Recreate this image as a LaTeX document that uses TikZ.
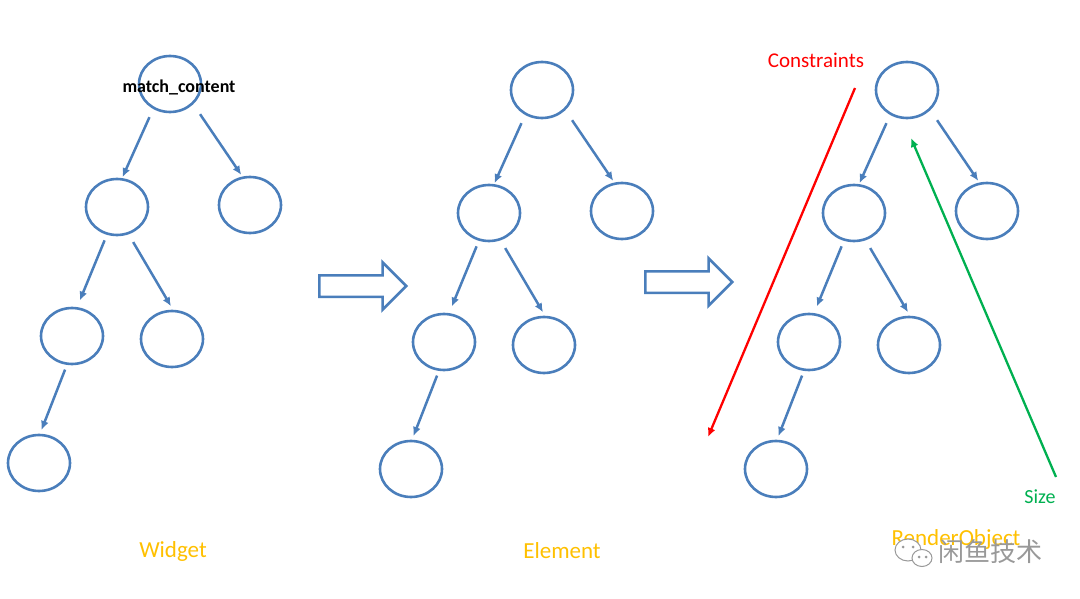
\documentclass[tikz,border=0pt]{standalone}
\usepackage{fontspec}
\setmainfont{Carlito}
\newfontfamily\cjk{Noto Sans CJK SC}
\usetikzlibrary{arrows.meta,shapes.geometric,shapes.arrows}

\definecolor{treeblue}{RGB}{74,126,187}
\definecolor{labelgold}{RGB}{255,192,0}
\definecolor{sizegreen}{RGB}{0,176,80}

\begin{document}
\begin{tikzpicture}[x=1pt,y=-1pt,>={Latex[length=9pt,width=8pt]},
						obj/.style={draw=treeblue,ellipse,line width=2.6pt,minimum width=62pt,minimum height=56pt,inner sep=0pt},
						link/.style={->,treeblue,line width=2.5pt},
						stage/.style={single arrow,draw=treeblue,line width=2.5pt,inner xsep=0pt,inner ysep=9.5pt,
							single arrow head extend=13pt,minimum height=87pt,anchor=tail},
						title/.style={labelgold,font=\fontsize{23}{27}\selectfont},
						flow/.style={->,line width=2.3pt}]

						\useasboundingbox (0,0) rectangle (1080,599);

						%%% Three trees: Widget, Element, RenderObject
						\foreach \t/\dx/\dy in {w/0/0,e/372/6,r/737/6}{
							\begin{scope}[shift={(\dx,\dy)}]
								\node[obj] (\t-root) at (170,84) {};
								\node[obj] (\t-a) at (117,207) {};
								\node[obj] (\t-b) at (250,205) {};
								\node[obj] (\t-c) at (72,336) {};
								\node[obj] (\t-d) at (172,339) {};
								\node[obj] (\t-e) at (39,463) {};
								\draw[link,shorten <=9pt,shorten >=1pt] (\t-root.236) -- (\t-a.80);
								\draw[link,shorten <=12pt,shorten >=2pt] (\t-root.319) -- (\t-b.105);
								\draw[link,shorten <=6pt,shorten >=7pt] (\t-a.250) -- (\t-c.80);
								\draw[link,shorten <=9pt,shorten >=4pt] (\t-a.293) -- (\t-d.88);
								\draw[link,shorten <=5pt,shorten >=4pt] (\t-c.260) -- (\t-e.88);
							\end{scope}
						}
						\node[font=\bfseries\fontsize{18}{22}\selectfont] (match) at (179,87) {match\_content};

						%%% Stage arrows
						\node[stage] (w2e) at (318,286) {};
						\node[stage] (e2r) at (644,282) {};

						%%% Titles
						\node[title] (widget) at (173,551) {Widget};
						\node[title] (element) at (562,551) {Element};
						\node[title] (render) at (956,539) {RenderObject};

						%%% Constraints down, Size up
						\coordinate (ctop) at (855,88);
						\coordinate (cbot) at (708,437);
						\draw[flow,red] (ctop) -- (cbot);
						\node[red,font=\fontsize{21}{25}\selectfont] (constraints) at (816,60) {Constraints};
						\coordinate (sbot) at (1056,477);
						\coordinate (stop) at (911,138);
						\draw[flow,sizegreen] (sbot) -- (stop);
						\node[sizegreen,font=\fontsize{20}{24}\selectfont] (size) at (1040,497) {Size};

						%% watermark
						\draw[black!40,fill=white,line width=1pt] (908,550) ellipse (13pt and 11pt);
						\draw[black!40,fill=white,line width=1pt] (922,558) ellipse (10pt and 8.5pt);
						\foreach \px/\py in {903/547,913/547,919/557,926/557}
							\fill[black!40] (\px,\py) circle (1.5pt);
						\node[black!40,font=\cjk\fontsize{26}{30}\selectfont] (mark) at (990,552) {闲鱼技术};
					\end{tikzpicture}
\end{document}
